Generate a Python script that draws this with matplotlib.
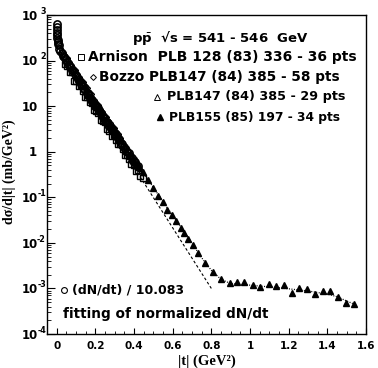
import matplotlib
matplotlib.use('Agg')
import matplotlib.pyplot as plt
from matplotlib.ticker import FixedLocator, FixedFormatter, NullFormatter, MultipleLocator

plt.rcParams['font.family'] = ['DejaVu Sans']
plt.rcParams['mathtext.fontset'] = 'dejavusans'

# ---------------- data ----------------
# (dN/dt)/10.083 - open circles
circ_t = [0.001, 0.0015, 0.002, 0.0025, 0.003, 0.004, 0.005, 0.006, 0.008, 0.010,
          0.012, 0.018, 0.025, 0.032, 0.040, 0.047, 0.055, 0.062, 0.070, 0.078,
          0.085, 0.093, 0.100, 0.108, 0.116, 0.124, 0.132, 0.140, 0.148, 0.156,
          0.164, 0.172, 0.180, 0.188, 0.196, 0.204, 0.212, 0.220, 0.228, 0.236,
          0.244, 0.252, 0.260, 0.268, 0.276, 0.284, 0.292, 0.300, 0.308, 0.316,
          0.324, 0.332, 0.340, 0.348, 0.356, 0.364, 0.372, 0.380, 0.388, 0.396,
          0.404, 0.412, 0.420]
circ_v = [630, 540, 470, 410, 360, 310, 280, 255, 235, 215,
          177, 160, 147, 128, 117, 101, 93, 80, 74, 62,
          58.5, 50, 46.5, 39.5, 36.5, 31, 28.5, 24.3, 22.4, 19.1,
          17.5, 15.0, 13.8, 11.8, 10.8, 9.65, 8.95, 7.66, 7.11, 6.08,
          5.62, 4.84, 4.46, 3.84, 3.56, 3.06, 2.83, 2.44, 2.26, 1.95,
          1.80, 1.55, 1.44, 1.24, 1.15, 1.00, 0.92, 0.80, 0.74, 0.64,
          0.59, 0.52, 0.48]

# Arnison PLB 128 (83) 336 - open squares
arn_t = [0.045, 0.056, 0.067, 0.079, 0.090, 0.102, 0.113, 0.124, 0.136, 0.147,
         0.159, 0.170, 0.181, 0.193, 0.204, 0.216, 0.227, 0.238, 0.250, 0.261,
         0.273, 0.284, 0.295, 0.307, 0.318, 0.330, 0.341, 0.352, 0.364, 0.375,
         0.387, 0.398, 0.409, 0.421, 0.432, 0.444]
arn_v = [85, 76, 55, 57, 35, 35.4, 28.1, 28.5, 21.1, 15.6,
         15.8, 12.6, 12.0, 8.3, 7.9, 7.1, 4.9, 4.8, 4.6, 3.2,
         2.9, 2.2, 2.27, 1.8, 1.44, 1.47, 1.12, 0.84, 0.86, 0.69,
         0.55, 0.50, 0.38, 0.39, 0.30, 0.27]

# Bozzo PLB147 (84) 385 - open diamonds
boz_t = [0.03, 0.04, 0.05, 0.06, 0.07, 0.08, 0.09, 0.10, 0.11, 0.12,
         0.13, 0.14, 0.15, 0.16, 0.17, 0.18, 0.19, 0.20, 0.21, 0.22,
         0.23, 0.24, 0.25, 0.26, 0.27, 0.28, 0.29, 0.30, 0.31, 0.32]
boz_v = [150, 121, 114, 92, 81.5, 65.7, 61.9, 49.9, 44.6, 35.9,
         33.9, 27.4, 24.5, 19.8, 18.7, 15.1, 13.6, 11.0, 10.4, 8.46,
         7.58, 6.15, 5.83, 4.74, 4.26, 3.47, 3.29, 2.68, 2.42, 1.96]

# PLB147 (84) 385 - open triangles
ot_t = [0.15, 0.16, 0.17, 0.18, 0.19, 0.20, 0.21, 0.22, 0.23, 0.24,
        0.25, 0.26, 0.27, 0.28, 0.29, 0.30, 0.31, 0.32, 0.33, 0.34,
        0.35, 0.36, 0.37, 0.38, 0.39, 0.40, 0.41, 0.42, 0.43]
ot_v = [24.1, 18.0, 19.6, 14.0, 13.3, 10.0, 10.9, 7.83, 7.45, 5.57,
        6.08, 4.39, 4.18, 3.14, 3.43, 2.48, 2.38, 1.78, 1.96, 1.41,
        1.35, 1.02, 1.12, 0.81, 0.78, 0.59, 0.65, 0.47, 0.45]

# PLB155 (85) 197 - filled triangles
ft_t = [0.422, 0.448, 0.474, 0.500, 0.526, 0.552, 0.573, 0.598, 0.619, 0.645,
        0.661, 0.681, 0.707, 0.733, 0.769, 0.811, 0.852, 0.894, 0.935, 0.971,
        1.013, 1.054, 1.096, 1.132, 1.174, 1.215, 1.251, 1.293, 1.334, 1.375,
        1.412, 1.453, 1.495, 1.536]
ft_v = [0.511, 0.359, 0.239, 0.160, 0.107, 0.0788, 0.0526, 0.0408, 0.0302, 0.0212,
        0.0164, 0.0121, 0.00897, 0.00599, 0.00361, 0.00229, 0.00161, 0.00132, 0.00138, 0.00138,
        0.00119, 0.00107, 0.00125, 0.00113, 0.00119, 0.00079, 0.00102, 0.00097, 0.00075, 0.00088,
        0.00088, 0.00065, 0.00048, 0.00046]

# exponential fit (dashed)
exp_t = [0.0, 0.80]
exp_v = [210, 0.001]

# fit of normalized dN/dt (dotted)
fit_t = [0.0, 0.1, 0.2, 0.3, 0.4, 0.45, 0.5, 0.55, 0.6, 0.65, 0.7, 0.75, 0.8,
         0.85, 0.9, 1.0, 1.1, 1.2, 1.3, 1.4, 1.45, 1.5, 1.54]
fit_v = [210, 46, 10.3, 2.4, 0.6, 0.34, 0.165, 0.08, 0.040, 0.020, 0.0098, 0.0047, 0.0025,
         0.00158, 0.00128, 0.00118, 0.00108, 0.00098, 0.00088, 0.00075, 0.00066, 0.00053, 0.00045]

x_ticks = [0, 0.2, 0.4, 0.6, 0.8, 1.0, 1.2, 1.4, 1.6]
x_ticklabels = ['0', '0.2', '0.4', '0.6', '0.8', '1', '1.2', '1.4', '1.6']
y_exps = [-4, -3, -2, -1, 0, 1, 2, 3]

# ---------------- figure ----------------
fig = plt.figure(figsize=(3.78, 3.68), dpi=100)
ax = fig.add_axes([47 / 378, 34 / 368, 319 / 378, 319 / 368])
ax.set_yscale('log')
ax.set_xlim(-0.05, 1.6)
ax.set_ylim(1e-4, 1e3)

ax.plot(exp_t, exp_v, color='black', lw=0.8, ls=(0, (2.5, 2.0)))
ax.plot(fit_t, fit_v, color='black', lw=0.9, ls=(0, (0.8, 1.2)))

ax.plot(arn_t, arn_v, 's', mfc='none', mec='black', ms=4.8, mew=1.0, ls='none')
ax.plot(boz_t, boz_v, 'D', mfc='none', mec='black', ms=3.8, mew=1.0, ls='none')
ax.plot(ot_t, ot_v, '^', mfc='none', mec='black', ms=4.8, mew=1.0, ls='none')
ax.plot(circ_t, circ_v, 'o', mfc='none', mec='black', ms=5.2, mew=1.15, ls='none')
ax.plot(ft_t, ft_v, '^', color='black', ms=4.6, ls='none')

# ticks
ax.xaxis.set_major_locator(FixedLocator(x_ticks))
ax.xaxis.set_major_formatter(FixedFormatter(x_ticklabels))
ax.xaxis.set_minor_locator(MultipleLocator(0.05))
ax.tick_params(axis='x', which='major', direction='in', length=4, width=0.8,
               top=False, pad=5, labelsize=7.5)
ax.tick_params(axis='x', which='minor', direction='in', length=2, width=0.6, top=False)
for lab in ax.get_xticklabels():
    lab.set_fontweight('bold')

ax.yaxis.set_major_locator(FixedLocator([10.0 ** e for e in y_exps]))
ax.yaxis.set_major_formatter(NullFormatter())
ax.yaxis.set_minor_formatter(NullFormatter())
ax.tick_params(axis='y', which='major', direction='in', length=5.5, width=0.8, right=False)
ax.tick_params(axis='y', which='minor', direction='in', length=2.8, width=0.6, right=False)
for s in ax.spines.values():
    s.set_linewidth(1.0)

# y tick labels in "10^n" style
ytr = ax.get_yaxis_transform()
for e in y_exps:
    v = 10.0 ** e
    if e == 0:
        ax.annotate('1', xy=(0, v), xycoords=ytr, xytext=(-7, -0.5), textcoords='offset points',
                    ha='right', va='center', fontsize=8.5, fontweight='bold')
    else:
        ax.annotate('10', xy=(0, v), xycoords=ytr, xytext=(-6.5, -1), textcoords='offset points',
                    ha='right', va='center', fontsize=8.5, fontweight='bold')
        if e != 1:
            ax.annotate(str(e), xy=(0, v), xycoords=ytr, xytext=(-0.8, -0.6), textcoords='offset points',
                        ha='right', va='bottom', fontsize=5.8, fontweight='bold')

# axis titles
fig.text(207 / 378, 1 - 361 / 368, '|t| (GeV²)', ha='center', va='center',
         fontsize=10.5, fontweight='bold', family=['Liberation Serif', 'DejaVu Serif'])
fig.text(9 / 378, 1 - 172 / 368, 'dσ/d|t| (mb/GeV²)', ha='center', va='center', rotation=90,
         fontsize=10, fontweight='bold', family=['Liberation Serif', 'DejaVu Serif'])

# legend block
ax.text(0.266, 0.928, r'p$\bar{\mathbf{p}}$  √s = 541 - 546  GeV', transform=ax.transAxes,
        ha='left', va='center', fontsize=9.5, fontweight='bold')
ax.plot([0.107], [0.868], 's', mfc='none', mec='black', ms=4.0, mew=0.7, transform=ax.transAxes)
ax.text(0.129, 0.868, 'Arnison  PLB 128 (83) 336 - 36 pts', transform=ax.transAxes,
        ha='left', va='center', fontsize=10.0, fontweight='bold')
ax.plot([0.144], [0.806], 'D', mfc='none', mec='black', ms=3.0, mew=0.7, transform=ax.transAxes)
ax.text(0.163, 0.806, 'Bozzo PLB147 (84) 385 - 58 pts', transform=ax.transAxes,
        ha='left', va='center', fontsize=9.8, fontweight='bold')
ax.plot([0.345], [0.743], '^', mfc='none', mec='black', ms=4.0, mew=0.7, transform=ax.transAxes)
ax.text(0.376, 0.743, 'PLB147 (84) 385 - 29 pts', transform=ax.transAxes,
        ha='left', va='center', fontsize=9.2, fontweight='bold')
ax.plot([0.354], [0.680], '^', color='black', ms=4.0, transform=ax.transAxes)
ax.text(0.383, 0.680, 'PLB155 (85) 197 - 34 pts', transform=ax.transAxes,
        ha='left', va='center', fontsize=8.8, fontweight='bold')
ax.plot([0.053], [0.138], 'o', mfc='none', mec='black', ms=4.2, mew=0.8, transform=ax.transAxes)
ax.text(0.078, 0.138, '(dN/dt) / 10.083', transform=ax.transAxes,
        ha='left', va='center', fontsize=9.0, fontweight='bold')
ax.text(0.050, 0.063, 'fitting of normalized dN/dt', transform=ax.transAxes,
        ha='left', va='center', fontsize=9.8, fontweight='bold')

fig.savefig('out.png', dpi=100)
